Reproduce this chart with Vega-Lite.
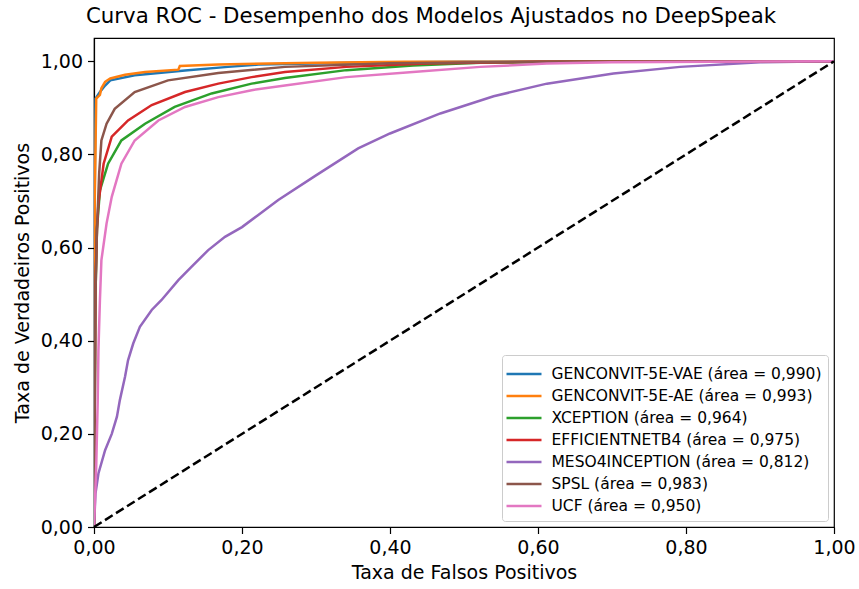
{
  "$schema": "https://vega.github.io/schema/vega-lite/v6.json",
  "width": 740,
  "height": 489,
  "autosize": "none",
  "padding": {"left": 94, "top": 38, "right": 25, "bottom": 62},
  "background": "white",
  "config": {
    "font": "DejaVu Sans",
    "locale": {"number": {"decimal": ",", "thousands": ".", "grouping": [3], "currency": ["", "€"]}},
    "view": {"stroke": "black", "strokeWidth": 1.2},
    "axis": {"grid": false, "domainColor": "black", "domainWidth": 1.2, "tickColor": "black", "tickWidth": 1.2, "tickSize": 6.5, "labelColor": "black", "labelFontSize": 19, "labelFont": "DejaVu Sans", "titleFont": "DejaVu Sans", "titleFontSize": 19, "titleFontWeight": "normal", "titleColor": "black", "labelPadding": 5, "labelFlush": false, "labelOverlap": false},
    "title": {"font": "DejaVu Sans", "fontSize": 21.3, "fontWeight": "normal", "color": "black", "offset": 11, "dx": -33},
    "legend": {"labelFont": "DejaVu Sans", "labelFontSize": 15.5, "labelColor": "black", "labelLimit": 0, "symbolType": "M-1.5,0H1.5", "symbolStrokeWidth": 2.5, "symbolSize": 544, "symbolOffset": 3, "fillColor": "white", "strokeColor": "#cccccc", "cornerRadius": 3, "padding": 6, "rowPadding": 0, "offset": 6, "labelOffset": 14.5}
  },
  "title": "Curva ROC - Desempenho dos Modelos Ajustados no DeepSpeak",
  "datasets": {
    "roc": [
      {"model": "GENCONVIT-5E-VAE (área = 0,990)", "fpr": 0, "tpr": 0},
      {"model": "GENCONVIT-5E-VAE (área = 0,990)", "fpr": 0.001, "tpr": 0.72},
      {"model": "GENCONVIT-5E-VAE (área = 0,990)", "fpr": 0.002, "tpr": 0.92},
      {"model": "GENCONVIT-5E-VAE (área = 0,990)", "fpr": 0.008, "tpr": 0.934},
      {"model": "GENCONVIT-5E-VAE (área = 0,990)", "fpr": 0.015, "tpr": 0.948},
      {"model": "GENCONVIT-5E-VAE (área = 0,990)", "fpr": 0.022, "tpr": 0.959},
      {"model": "GENCONVIT-5E-VAE (área = 0,990)", "fpr": 0.055, "tpr": 0.97},
      {"model": "GENCONVIT-5E-VAE (área = 0,990)", "fpr": 0.123, "tpr": 0.98},
      {"model": "GENCONVIT-5E-VAE (área = 0,990)", "fpr": 0.181, "tpr": 0.988},
      {"model": "GENCONVIT-5E-VAE (área = 0,990)", "fpr": 0.222, "tpr": 0.993},
      {"model": "GENCONVIT-5E-VAE (área = 0,990)", "fpr": 0.35, "tpr": 0.997},
      {"model": "GENCONVIT-5E-VAE (área = 0,990)", "fpr": 0.5, "tpr": 0.999},
      {"model": "GENCONVIT-5E-VAE (área = 0,990)", "fpr": 1, "tpr": 1},
      {"model": "GENCONVIT-5E-AE (área = 0,993)", "fpr": 0, "tpr": 0},
      {"model": "GENCONVIT-5E-AE (área = 0,993)", "fpr": 0.001, "tpr": 0.7},
      {"model": "GENCONVIT-5E-AE (área = 0,993)", "fpr": 0.003, "tpr": 0.92},
      {"model": "GENCONVIT-5E-AE (área = 0,993)", "fpr": 0.008, "tpr": 0.928},
      {"model": "GENCONVIT-5E-AE (área = 0,993)", "fpr": 0.01, "tpr": 0.942},
      {"model": "GENCONVIT-5E-AE (área = 0,993)", "fpr": 0.015, "tpr": 0.956},
      {"model": "GENCONVIT-5E-AE (área = 0,993)", "fpr": 0.022, "tpr": 0.963},
      {"model": "GENCONVIT-5E-AE (área = 0,993)", "fpr": 0.042, "tpr": 0.971},
      {"model": "GENCONVIT-5E-AE (área = 0,993)", "fpr": 0.069, "tpr": 0.977},
      {"model": "GENCONVIT-5E-AE (área = 0,993)", "fpr": 0.114, "tpr": 0.982},
      {"model": "GENCONVIT-5E-AE (área = 0,993)", "fpr": 0.116, "tpr": 0.99},
      {"model": "GENCONVIT-5E-AE (área = 0,993)", "fpr": 0.168, "tpr": 0.993},
      {"model": "GENCONVIT-5E-AE (área = 0,993)", "fpr": 0.3, "tpr": 0.997},
      {"model": "GENCONVIT-5E-AE (área = 0,993)", "fpr": 0.42, "tpr": 0.999},
      {"model": "GENCONVIT-5E-AE (área = 0,993)", "fpr": 1, "tpr": 1},
      {"model": "XCEPTION (área = 0,964)", "fpr": 0, "tpr": 0},
      {"model": "XCEPTION (área = 0,964)", "fpr": 0.002, "tpr": 0.5},
      {"model": "XCEPTION (área = 0,964)", "fpr": 0.004, "tpr": 0.64},
      {"model": "XCEPTION (área = 0,964)", "fpr": 0.008, "tpr": 0.723},
      {"model": "XCEPTION (área = 0,964)", "fpr": 0.019, "tpr": 0.78},
      {"model": "XCEPTION (área = 0,964)", "fpr": 0.037, "tpr": 0.83},
      {"model": "XCEPTION (área = 0,964)", "fpr": 0.069, "tpr": 0.866},
      {"model": "XCEPTION (área = 0,964)", "fpr": 0.109, "tpr": 0.902},
      {"model": "XCEPTION (área = 0,964)", "fpr": 0.159, "tpr": 0.931},
      {"model": "XCEPTION (área = 0,964)", "fpr": 0.213, "tpr": 0.952},
      {"model": "XCEPTION (área = 0,964)", "fpr": 0.258, "tpr": 0.964},
      {"model": "XCEPTION (área = 0,964)", "fpr": 0.341, "tpr": 0.981},
      {"model": "XCEPTION (área = 0,964)", "fpr": 0.431, "tpr": 0.991},
      {"model": "XCEPTION (área = 0,964)", "fpr": 0.522, "tpr": 0.997},
      {"model": "XCEPTION (área = 0,964)", "fpr": 0.65, "tpr": 0.999},
      {"model": "XCEPTION (área = 0,964)", "fpr": 1, "tpr": 1},
      {"model": "EFFICIENTNETB4 (área = 0,975)", "fpr": 0, "tpr": 0},
      {"model": "EFFICIENTNETB4 (área = 0,975)", "fpr": 0.002, "tpr": 0.52},
      {"model": "EFFICIENTNETB4 (área = 0,975)", "fpr": 0.004, "tpr": 0.64},
      {"model": "EFFICIENTNETB4 (área = 0,975)", "fpr": 0.006, "tpr": 0.695},
      {"model": "EFFICIENTNETB4 (área = 0,975)", "fpr": 0.013, "tpr": 0.78},
      {"model": "EFFICIENTNETB4 (área = 0,975)", "fpr": 0.024, "tpr": 0.838},
      {"model": "EFFICIENTNETB4 (área = 0,975)", "fpr": 0.046, "tpr": 0.873},
      {"model": "EFFICIENTNETB4 (área = 0,975)", "fpr": 0.078, "tpr": 0.906},
      {"model": "EFFICIENTNETB4 (área = 0,975)", "fpr": 0.123, "tpr": 0.934},
      {"model": "EFFICIENTNETB4 (área = 0,975)", "fpr": 0.168, "tpr": 0.952},
      {"model": "EFFICIENTNETB4 (área = 0,975)", "fpr": 0.213, "tpr": 0.966},
      {"model": "EFFICIENTNETB4 (área = 0,975)", "fpr": 0.258, "tpr": 0.977},
      {"model": "EFFICIENTNETB4 (área = 0,975)", "fpr": 0.341, "tpr": 0.988},
      {"model": "EFFICIENTNETB4 (área = 0,975)", "fpr": 0.45, "tpr": 0.995},
      {"model": "EFFICIENTNETB4 (área = 0,975)", "fpr": 0.6, "tpr": 0.999},
      {"model": "EFFICIENTNETB4 (área = 0,975)", "fpr": 1, "tpr": 1},
      {"model": "MESO4INCEPTION (área = 0,812)", "fpr": 0, "tpr": 0},
      {"model": "MESO4INCEPTION (área = 0,812)", "fpr": 0.002, "tpr": 0.072},
      {"model": "MESO4INCEPTION (área = 0,812)", "fpr": 0.006, "tpr": 0.115},
      {"model": "MESO4INCEPTION (área = 0,812)", "fpr": 0.015, "tpr": 0.165},
      {"model": "MESO4INCEPTION (área = 0,812)", "fpr": 0.024, "tpr": 0.2},
      {"model": "MESO4INCEPTION (área = 0,812)", "fpr": 0.031, "tpr": 0.237},
      {"model": "MESO4INCEPTION (área = 0,812)", "fpr": 0.035, "tpr": 0.273},
      {"model": "MESO4INCEPTION (área = 0,812)", "fpr": 0.042, "tpr": 0.323},
      {"model": "MESO4INCEPTION (área = 0,812)", "fpr": 0.046, "tpr": 0.358},
      {"model": "MESO4INCEPTION (área = 0,812)", "fpr": 0.053, "tpr": 0.394},
      {"model": "MESO4INCEPTION (área = 0,812)", "fpr": 0.062, "tpr": 0.43},
      {"model": "MESO4INCEPTION (área = 0,812)", "fpr": 0.078, "tpr": 0.466},
      {"model": "MESO4INCEPTION (área = 0,812)", "fpr": 0.091, "tpr": 0.487},
      {"model": "MESO4INCEPTION (área = 0,812)", "fpr": 0.114, "tpr": 0.53},
      {"model": "MESO4INCEPTION (área = 0,812)", "fpr": 0.132, "tpr": 0.559},
      {"model": "MESO4INCEPTION (área = 0,812)", "fpr": 0.154, "tpr": 0.594},
      {"model": "MESO4INCEPTION (área = 0,812)", "fpr": 0.177, "tpr": 0.623},
      {"model": "MESO4INCEPTION (área = 0,812)", "fpr": 0.2, "tpr": 0.644},
      {"model": "MESO4INCEPTION (área = 0,812)", "fpr": 0.222, "tpr": 0.67},
      {"model": "MESO4INCEPTION (área = 0,812)", "fpr": 0.249, "tpr": 0.702},
      {"model": "MESO4INCEPTION (área = 0,812)", "fpr": 0.3, "tpr": 0.755},
      {"model": "MESO4INCEPTION (área = 0,812)", "fpr": 0.357, "tpr": 0.813},
      {"model": "MESO4INCEPTION (área = 0,812)", "fpr": 0.4, "tpr": 0.845},
      {"model": "MESO4INCEPTION (área = 0,812)", "fpr": 0.468, "tpr": 0.888},
      {"model": "MESO4INCEPTION (área = 0,812)", "fpr": 0.54, "tpr": 0.925},
      {"model": "MESO4INCEPTION (área = 0,812)", "fpr": 0.612, "tpr": 0.952},
      {"model": "MESO4INCEPTION (área = 0,812)", "fpr": 0.702, "tpr": 0.974},
      {"model": "MESO4INCEPTION (área = 0,812)", "fpr": 0.792, "tpr": 0.988},
      {"model": "MESO4INCEPTION (área = 0,812)", "fpr": 0.9, "tpr": 0.998},
      {"model": "MESO4INCEPTION (área = 0,812)", "fpr": 1, "tpr": 1},
      {"model": "SPSL (área = 0,983)", "fpr": 0, "tpr": 0},
      {"model": "SPSL (área = 0,983)", "fpr": 0.002, "tpr": 0.5},
      {"model": "SPSL (área = 0,983)", "fpr": 0.004, "tpr": 0.637},
      {"model": "SPSL (área = 0,983)", "fpr": 0.007, "tpr": 0.76},
      {"model": "SPSL (área = 0,983)", "fpr": 0.01, "tpr": 0.83},
      {"model": "SPSL (área = 0,983)", "fpr": 0.017, "tpr": 0.866},
      {"model": "SPSL (área = 0,983)", "fpr": 0.028, "tpr": 0.898},
      {"model": "SPSL (área = 0,983)", "fpr": 0.055, "tpr": 0.934},
      {"model": "SPSL (área = 0,983)", "fpr": 0.1, "tpr": 0.959},
      {"model": "SPSL (área = 0,983)", "fpr": 0.168, "tpr": 0.975},
      {"model": "SPSL (área = 0,983)", "fpr": 0.258, "tpr": 0.988},
      {"model": "SPSL (área = 0,983)", "fpr": 0.4, "tpr": 0.996},
      {"model": "SPSL (área = 0,983)", "fpr": 0.6, "tpr": 0.999},
      {"model": "SPSL (área = 0,983)", "fpr": 1, "tpr": 1},
      {"model": "UCF (área = 0,950)", "fpr": 0, "tpr": 0},
      {"model": "UCF (área = 0,950)", "fpr": 0.003, "tpr": 0.13},
      {"model": "UCF (área = 0,950)", "fpr": 0.005, "tpr": 0.27},
      {"model": "UCF (área = 0,950)", "fpr": 0.006, "tpr": 0.38},
      {"model": "UCF (área = 0,950)", "fpr": 0.008, "tpr": 0.487},
      {"model": "UCF (área = 0,950)", "fpr": 0.01, "tpr": 0.573},
      {"model": "UCF (área = 0,950)", "fpr": 0.017, "tpr": 0.652},
      {"model": "UCF (área = 0,950)", "fpr": 0.024, "tpr": 0.709},
      {"model": "UCF (área = 0,950)", "fpr": 0.037, "tpr": 0.78},
      {"model": "UCF (área = 0,950)", "fpr": 0.055, "tpr": 0.83},
      {"model": "UCF (área = 0,950)", "fpr": 0.087, "tpr": 0.873},
      {"model": "UCF (área = 0,950)", "fpr": 0.123, "tpr": 0.902},
      {"model": "UCF (área = 0,950)", "fpr": 0.168, "tpr": 0.923},
      {"model": "UCF (área = 0,950)", "fpr": 0.213, "tpr": 0.938},
      {"model": "UCF (área = 0,950)", "fpr": 0.258, "tpr": 0.948},
      {"model": "UCF (área = 0,950)", "fpr": 0.341, "tpr": 0.966},
      {"model": "UCF (área = 0,950)", "fpr": 0.431, "tpr": 0.977},
      {"model": "UCF (área = 0,950)", "fpr": 0.522, "tpr": 0.988},
      {"model": "UCF (área = 0,950)", "fpr": 0.612, "tpr": 0.995},
      {"model": "UCF (área = 0,950)", "fpr": 0.7, "tpr": 0.998},
      {"model": "UCF (área = 0,950)", "fpr": 1, "tpr": 1}
    ],
    "diag": [{"fpr": 0, "tpr": 0}, {"fpr": 1, "tpr": 1}]
  },
  "layer": [
    {
      "data": {"name": "roc"},
      "mark": {"type": "line", "strokeWidth": 2.5, "clip": true},
      "encoding": {
        "x": {"field": "fpr", "type": "quantitative", "scale": {"domain": [0, 1], "nice": false, "zero": false}, "axis": {"title": "Taxa de Falsos Positivos", "values": [0, 0.2, 0.4, 0.6, 0.8, 1.0], "format": ".2f", "titlePadding": 6}},
        "y": {"field": "tpr", "type": "quantitative", "scale": {"domain": [0, 1.05], "nice": false, "zero": false}, "axis": {"title": "Taxa de Verdadeiros Positivos", "values": [0, 0.2, 0.4, 0.6, 0.8, 1.0], "format": ".2f", "titlePadding": 8}},
        "color": {
          "field": "model", "type": "nominal",
          "scale": {
            "domain": ["GENCONVIT-5E-VAE (área = 0,990)", "GENCONVIT-5E-AE (área = 0,993)", "XCEPTION (área = 0,964)", "EFFICIENTNETB4 (área = 0,975)", "MESO4INCEPTION (área = 0,812)", "SPSL (área = 0,983)", "UCF (área = 0,950)"],
            "range": ["#1f77b4", "#ff7f0e", "#2ca02c", "#d62728", "#9467bd", "#8c564b", "#e377c2"]
          },
          "legend": {"title": null, "orient": "bottom-right"}
        }
      }
    },
    {
      "data": {"name": "diag"},
      "mark": {"type": "line", "color": "black", "strokeWidth": 2.5, "strokeDash": [9, 4]},
      "encoding": {
        "x": {"field": "fpr", "type": "quantitative"},
        "y": {"field": "tpr", "type": "quantitative"}
      }
    }
  ]
}
